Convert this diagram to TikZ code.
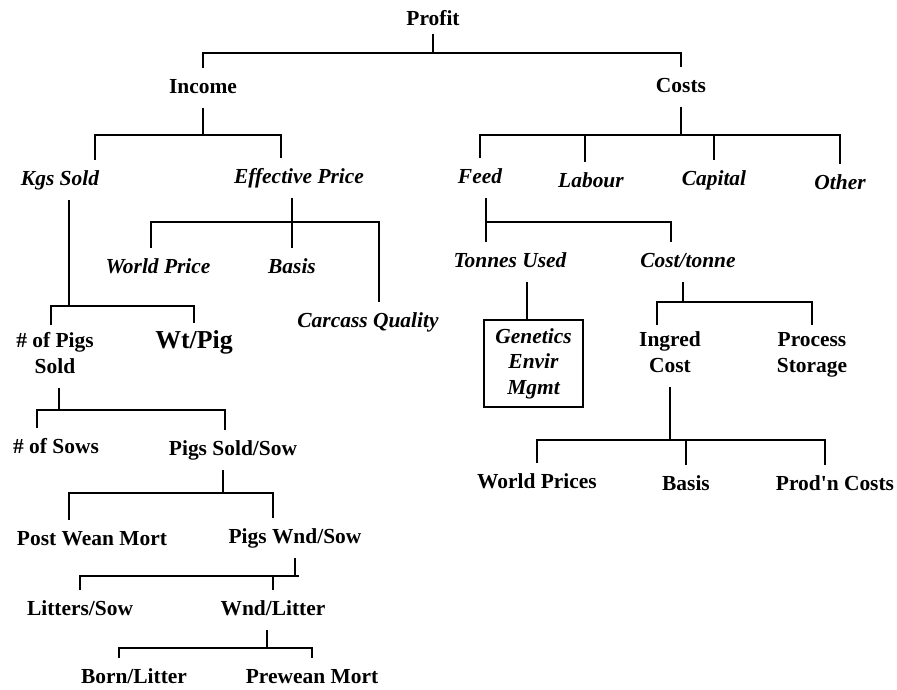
\documentclass[tikz,border=0pt]{standalone}
\usepackage{fontspec}
\setmainfont{Liberation Serif}
\usetikzlibrary{calc}
\newcommand{\lblsize}{\fontsize{12.2}{14.6}\selectfont}

\begin{document}
\begin{tikzpicture}[x=0.02cm, y=-0.02cm, line width=1.1pt,
    lbl/.style={font=\lblsize\bfseries, anchor=base, inner xsep=0pt, inner ysep=0.12cm,
                execute at begin node=\strut, execute at end node=\strut},
    ital/.style={lbl, font=\lblsize\bfseries\itshape},
    two/.style={lbl, align=center},
    boxed/.style={draw, font=\lblsize\bfseries\itshape, align=center, inner sep=0pt,
                  minimum width=1.98cm, minimum height=1.74cm}]
    \useasboundingbox (0,0) rectangle (897,690);

    % labels
    \node[lbl, inner ysep=0pt] (profit) at (433, 25) {Profit};
    \node[lbl]  (income)  at (203, 93) {Income};
    \node[lbl]  (costs)   at (681, 92) {Costs};
    \node[ital] (kgs)     at ( 60,185) {Kgs Sold};
    \node[ital] (eff)     at (299,183) {Effective Price};
    \node[ital] (feed)    at (480,183) {Feed};
    \node[ital] (labour)  at (591,187) {Labour};
    \node[ital] (capital) at (714,185) {Capital};
    \node[ital] (other)   at (840,189) {Other};
    \node[ital] (wprice)  at (158,273) {World Price};
    \node[ital] (basis)   at (292,273) {Basis};
    \node[ital] (carcass) at (368,327) {Carcass Quality};
    \node[two]  (npigs)   at ( 55,373) {\# of Pigs\\Sold};
    \node[lbl, font=\fontsize{14.7}{14.6}\selectfont\bfseries] (wtpig) at (194,348) {Wt/Pig};
    \node[lbl]  (nsows)   at ( 56,453) {\# of Sows};
    \node[lbl]  (pss)     at (233,455) {Pigs Sold/Sow};
    \node[lbl]  (pwm)     at ( 92,545) {Post Wean Mort};
    \node[lbl]  (pws)     at (295,543) {Pigs Wnd/Sow};
    \node[lbl]  (lps)     at ( 80,615) {Litters/Sow};
    \node[lbl]  (wpl)     at (273,615) {Wnd/Litter};
    \node[lbl]  (bpl)     at (134,683) {Born/Litter};
    \node[lbl]  (prem)    at (312,683) {Prewean Mort};
    \node[ital] (tonnes)  at (510,267) {Tonnes Used};
    \node[ital] (cpt)     at (688,267) {Cost/tonne};
    \node[boxed] (gem)    at (533.5,363.5) {Genetics\\Envir\\Mgmt};
    \node[two]  (ingred)  at (670,372) {Ingred\\Cost};
    \node[two]  (proc)    at (812,372) {Process\\Storage};
    \node[lbl]  (wprices) at (537,488) {World Prices};
    \node[lbl]  (basisb)  at (686,490) {Basis};
    \node[lbl]  (prodn)   at (835,490) {Prod\textquotesingle n Costs};

    % bus lines
    \coordinate (b1)  at (433, 53);
    \coordinate (b2)  at (203,135);
    \coordinate (b3)  at (681,135);
    \coordinate (b4)  at ( 69,306);
    \coordinate (b5)  at (292,222);
    \coordinate (b6)  at (486,222);
    \coordinate (b7)  at (683,302);
    \coordinate (b8)  at (670,440);
    \coordinate (b9)  at ( 59,410);
    \coordinate (b10) at (223,493);
    \coordinate (b11) at (299,576);
    \coordinate (b12) at (267,648);

    \draw (profit.south) -- (b1);
    \draw (income.north) |- (b1) -| (costs.north);
    \draw (income.south) -- (b2);
    \draw ($(kgs.north)+(35,0)$) |- (b2) -| ($(eff.north)+(-18,0)$);
    \draw (costs.south) -- (b3);
    \draw (feed.north) |- (b3) -| (other.north);
    \draw ($(labour.north)+(-6,0)$) coordinate (t) -- (t |- b3);
    \draw (capital.north) -- (capital.north |- b3);
    \draw ($(kgs.south)+(9,0)$) -- (b4);
    \draw ($(npigs.north)+(-4,0)$) |- (b4) -| (wtpig.north);
    \draw ($(eff.south)+(-7,0)$) -- (basis.north);
    \draw ($(wprice.north)+(-7,0)$) |- (b5) -| ($(carcass.north)+(11,0)$);
    \draw ($(feed.south)+(6,0)$) -- ($(tonnes.north)+(-24,0)$);
    \draw (b6) -| ($(cpt.north)+(-17,0)$);
    \draw ($(tonnes.south)+(17,0)$) coordinate (t) -- (t |- gem.north);
    \draw ($(cpt.south)+(-5,0)$) -- (b7);
    \draw ($(ingred.north)+(-13,0)$) |- (b7) -| (proc.north);
    \draw (ingred.south) -- (b8);
    \draw (wprices.north) |- (b8) -| ($(prodn.north)+(-10,0)$);
    \draw (basisb.north) -- (basisb.north |- b8);
    \draw ($(npigs.south)+(4,0)$) -- (b9);
    \draw ($(nsows.north)+(-19,0)$) |- (b9) -| ($(pss.north)+(-8,0)$);
    \draw ($(pss.south)+(-10,0)$) -- (b10);
    \draw ($(pwm.north)+(-23,0)$) |- (b10) -| ($(pws.north)+(-22,0)$);
    \draw (pws.south) -- (pws.south |- b11);
    \draw (lps.north) |- (b11);
    \draw (wpl.north) -- (wpl.north |- b11);
    \draw ($(wpl.south)+(-6,0)$) -- (b12);
    \draw ($(bpl.north)+(-15,0)$) |- (b12) -| (prem.north);
\end{tikzpicture}
\end{document}
